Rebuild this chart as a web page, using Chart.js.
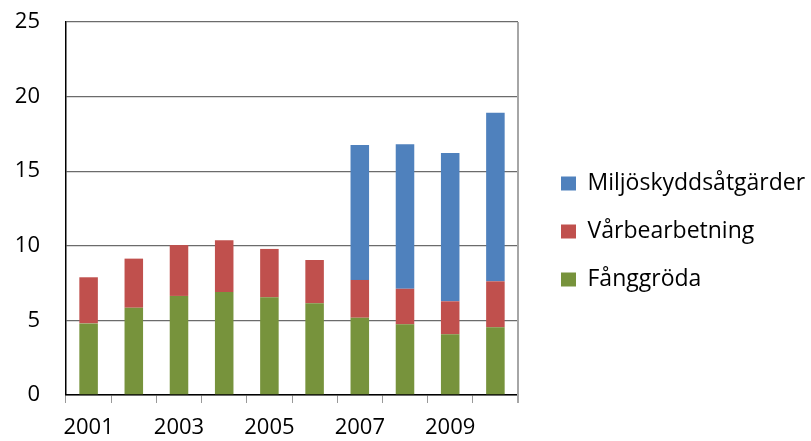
<!DOCTYPE html>
<html>
<head>
<meta charset="utf-8">
<script src="https://cdn.jsdelivr.net/npm/chart.js@4/dist/chart.umd.min.js"></script>
<style>
  html, body { margin: 0; padding: 0; background: #fff; }
  #wrap { width: 811px; height: 441px; }
</style>
</head>
<body>
<div id="wrap"><canvas id="c" width="811" height="441"></canvas></div>
<script>
const years = ['2001','2002','2003','2004','2005','2006','2007','2008','2009','2010'];
const fanggroda = [4.8, 5.85, 6.64, 6.9, 6.55, 6.15, 5.18, 4.74, 4.07, 4.54];
const varbearbetning = [3.09, 3.29, 3.41, 3.47, 3.24, 2.9, 2.53, 2.38, 2.21, 3.08];
const miljoskydd = [0, 0, 0, 0, 0, 0, 9.05, 9.68, 9.94, 11.3];
const yTicks = [0, 5, 10, 15, 20, 25];

const FONT = "'Open Sans', 'DejaVu Sans', sans-serif";

// Layout helpers: fixed legend width (plot right edge) and legend item offset
const LEGEND_WIDTH = 293;
const LEGEND_SHIFT = 18;

const legendLayout = {
  id: 'legendLayout',
  afterInit(chart) {
    const lg = chart.legend;
    if (!lg) return;
    const origFit = lg.fit.bind(lg);
    lg.fit = function () {
      origFit();
      if (!this.isHorizontal()) this.width = LEGEND_WIDTH;
    };
  },
  afterLayout(chart) {
    const lg = chart.legend;
    if (!lg) return;
    lg.left += LEGEND_SHIFT;
    lg.right += LEGEND_SHIFT;
  }
};

const rightBorder = {
  id: 'rightBorder',
  afterDraw(chart) {
    const a = chart.chartArea, ctx = chart.ctx;
    ctx.save();
    ctx.strokeStyle = '#a6a6a6';
    ctx.lineWidth = 2;
    ctx.beginPath();
    ctx.moveTo(a.right, a.top);
    ctx.lineTo(a.right, a.bottom + 8);
    ctx.stroke();
    ctx.restore();
  }
};

function draw() {
  new Chart(document.getElementById('c'), {
    type: 'bar',
    data: {
      labels: years,
      datasets: [
        { label: 'Fånggröda', data: fanggroda, backgroundColor: '#77933C' },
        { label: 'Vårbearbetning', data: varbearbetning, backgroundColor: '#C0504D' },
        { label: 'Miljöskyddsåtgärder', data: miljoskydd, backgroundColor: '#4F81BD' }
      ]
    },
    options: {
      responsive: false,
      animation: false,
      devicePixelRatio: 1,
      layout: { padding: { top: 22, right: 0, bottom: 0, left: 0 } },
      datasets: { bar: { categoryPercentage: 1.0, barPercentage: 0.41 } },
      plugins: {
        legend: {
          position: 'right',
          reverse: true,
          maxWidth: 400,
          labels: {
            boxWidth: 15,
            boxHeight: 14,
            padding: 25,
            color: '#000',
            font: { family: FONT, size: 23 }
          }
        },
        tooltip: { enabled: false }
      },
      scales: {
        x: {
          stacked: true,
          afterFit(s) { s.height = 46; },
          grid: { drawOnChartArea: false, drawTicks: true, tickLength: 8, color: '#999', offset: true },
          border: { color: '#000', width: 1.5 },
          ticks: {
            autoSkip: false,
            maxRotation: 0,
            padding: 12,
            color: '#000',
            font: { family: FONT, size: 22 },
            callback(v, i) { return i % 2 === 0 ? years[i] : ''; }
          }
        },
        y: {
          stacked: true,
          min: 0,
          max: 25,
          afterFit(s) { s.width = 66; },
          afterBuildTicks(s) { s.ticks = yTicks.map(v => ({ value: v })); },
          grid: { drawTicks: true, tickLength: 24, tickColor: 'rgba(0,0,0,0)', color: '#6b6b6b', lineWidth: 1.3 },
          border: { color: '#000', width: 1.5 },
          ticks: {
            padding: 2,
            color: '#000',
            font: { family: FONT, size: 22 }
          }
        }
      }
    },
    plugins: [legendLayout, rightBorder]
  });
}

if (document.fonts && document.fonts.load) {
  document.fonts.load("22px 'Open Sans'").then(draw, draw);
} else {
  draw();
}
</script>
</body>
</html>
